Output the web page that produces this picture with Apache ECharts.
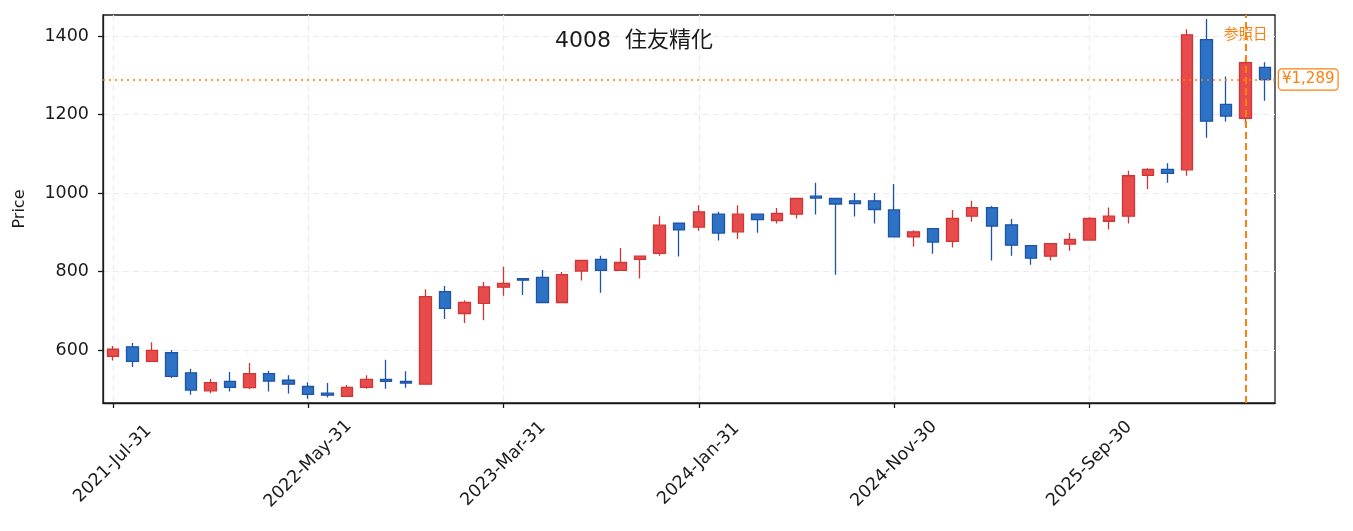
<!DOCTYPE html>
<html>
<head>
<meta charset="utf-8">
<script src="https://cdn.jsdelivr.net/npm/echarts@6/dist/echarts.min.js"></script>
<style>
  html, body { margin: 0; padding: 0; background: #fff; }
  #chart { width: 1353px; height: 531px; }
</style>
</head>
<body>
<div id="chart"></div>
<script>
// monthly bars, 2021-07 .. 2026-06 (month end)
var startYear = 2021, startMonth = 6, monthCount = 60;
var monthNames = ['Jan','Feb','Mar','Apr','May','Jun','Jul','Aug','Sep','Oct','Nov','Dec'];

var opens  = [584,608,571,593,542,496,520,504,540,523, 507,490,482,505,525,520,513,749,693,719,
              760,782,785,721,801,831,803,831,846,923, 913,946,901,946,930,946,992,986,980,980,
              957,888,909,877,941,963,919,866,839,870, 880,928,941,1045,1060,1059,1391,1226,1190,1320];
var closes = [602,571,599,533,498,517,505,540,521,513, 487,485,505,525,520,516,736,706,721,761,
              770,778,721,792,828,803,823,839,918,906, 952,898,946,932,948,986,987,972,973,958,
              888,901,875,935,963,916,867,834,871,882, 935,941,1044,1060,1050,1403,1183,1196,1332,1289];
var lows   = [573,557,570,529,486,490,494,500,494,489, 476,479,482,501,501,504,512,679,669,676,
              738,740,721,721,777,746,802,782,840,838, 904,879,883,899,922,935,945,792,940,922,
              888,863,845,861,927,828,840,817,828,853, 879,907,922,1010,1026,1044,1141,1182,1173,1235];
var highs  = [610,618,620,600,552,526,544,567,547,536, 518,516,511,536,575,546,755,763,727,773,
              812,783,804,799,829,840,860,840,941,923, 969,952,969,946,962,986,1026,986,1000,1000,
              1023,905,909,957,980,967,934,866,871,898, 938,963,1057,1063,1076,1417,1443,1297,1345,1333];

var priceTicks = [600, 800, 1000, 1200, 1400];
var lastPrice = 1289;
var refIndex = 58;

var dates = [];
for (var i = 0; i < monthCount; i++) {
  var y = startYear + Math.floor((startMonth + i) / 12);
  var m = (startMonth + i) % 12;
  var d = new Date(y, m + 1, 0).getDate();
  dates.push(y + '-' + monthNames[m] + '-' + d);
}
var ohlc = opens.map(function (o, i) { return [o, closes[i], lows[i], highs[i]]; });

var font = '"DejaVu Sans", "Noto Sans CJK JP", sans-serif';
var orange = '#ff7f0e';
var ink = '#1a1a1a';

var chart = echarts.init(document.getElementById('chart'));
chart.setOption({
  animation: false,
  textStyle: { fontFamily: font },
  title: {
    text: '4008  住友精化',
    left: 550, top: 25,
    textStyle: { fontSize: 22, fontWeight: 'normal', color: ink, fontFamily: font }
  },
  grid: {
    left: 103, right: 78, top: 15, bottom: 128,
    show: true, borderColor: ink, borderWidth: 1.3, backgroundColor: 'transparent'
  },
  xAxis: {
    type: 'category',
    data: dates,
    boundaryGap: true,
    axisLine: { lineStyle: { color: ink, width: 1.3 } },
    axisTick: { show: true, interval: 9, alignWithLabel: true, length: 5, lineStyle: { color: ink, width: 1.3 } },
    axisLabel: {
      interval: 9, rotate: 45, fontSize: 17.5, color: ink, fontFamily: font,
      align: 'center', verticalAlign: 'middle', margin: 61
    },
    splitLine: { show: true, interval: 9, alignWithLabel: true, lineStyle: { color: '#ebebeb', type: [6, 4], width: 1.2 } }
  },
  yAxis: {
    type: 'value',
    min: 465, max: 1453.5,
    name: 'Price',
    nameLocation: 'middle',
    nameGap: 75,
    nameTextStyle: { fontSize: 16, color: ink, fontFamily: font },
    axisLine: { show: true, lineStyle: { color: ink, width: 1.3 } },
    axisTick: { show: true, length: 5, customValues: priceTicks, lineStyle: { color: ink, width: 1.3 } },
    axisLabel: {
      fontSize: 17.5, color: ink, margin: 14, customValues: priceTicks, fontFamily: font,
      formatter: function (v) { return String(v); }
    },
    splitLine: { show: true, lineStyle: { color: '#ebebeb', type: [6, 4], width: 1.2 } }
  },
  series: [{
    type: 'candlestick',
    data: ohlc,
    barWidth: 12,
    itemStyle: {
      color: '#e84b4b', color0: '#2e72c6',
      borderColor: '#d13636', borderColor0: '#1c54a6',
      borderWidth: 1.3
    },
    markLine: {
      silent: true,
      symbol: ['none', 'none'],
      data: [
        {
          yAxis: lastPrice,
          lineStyle: { color: orange, type: [2, 4], width: 1.6 },
          label: {
            show: true, position: 'end', distance: 4,
            formatter: '¥' + lastPrice.toLocaleString('en-US'),
            color: orange, fontSize: 15, fontFamily: font,
            backgroundColor: '#fff', borderColor: orange, borderWidth: 1.2, borderRadius: 3,
            padding: [3, 3, 2, 3]
          }
        },
        {
          xAxis: dates[refIndex],
          lineStyle: { color: orange, type: [7, 4], width: 2 },
          label: { show: false }
        }
      ]
    },
    markPoint: {
      silent: true,
      symbol: 'circle', symbolSize: 0,
      data: [{
        coord: [dates[refIndex], 1402],
        label: { show: true, formatter: '参照日', color: orange, fontSize: 14.5, fontFamily: font, position: 'inside' }
      }]
    }
  }]
});
</script>
</body>
</html>
